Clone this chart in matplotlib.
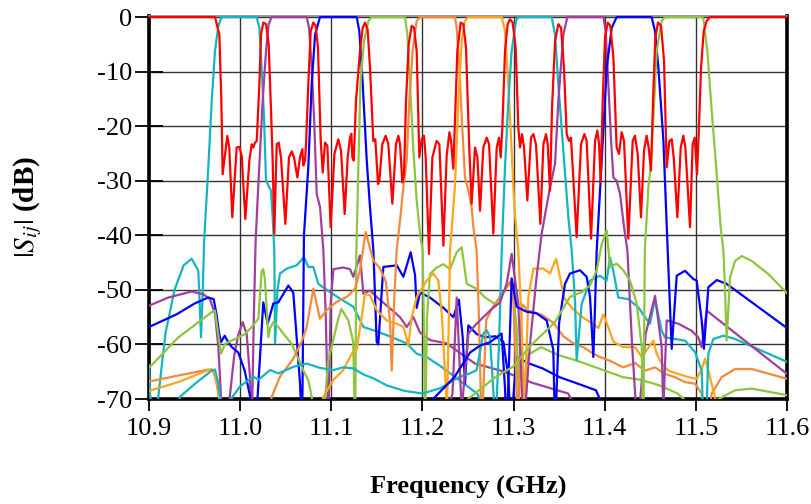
import matplotlib
matplotlib.use("Agg")
import matplotlib.pyplot as plt

plt.rcParams['font.family'] = ['Liberation Serif', 'DejaVu Serif']
plt.rcParams['mathtext.fontset'] = 'stix'

# Common-port reflection |S11| (dB)
s11 = [(10.9, 0), (10.9724, 0), (10.9772, -3.2), (10.9794, -15.4), (10.9808, -28.8), (10.9859, -21.8),
       (10.9881, -23.9), (10.9914, -36.7), (10.9962, -23.9), (10.9991, -23.8), (11.0017, -25.4),
       (11.0057, -37.0), (11.0101, -26.3), (11.0127, -23.3), (11.0145, -23.9), (11.0163, -23.0),
       (11.0182, -22.7), (11.0211, -12.3), (11.0229, -3.2), (11.0254, -1.0), (11.0284, -1.3),
       (11.0313, -5.0), (11.0339, -17.2), (11.0357, -26.3), (11.0375, -39.7), (11.0401, -23.3),
       (11.0423, -23.0), (11.0448, -25.7), (11.0496, -37.9), (11.0536, -25.7), (11.0566, -24.6),
       (11.0591, -25.7), (11.0628, -29.4), (11.0657, -25.7), (11.0682, -24.2), (11.0693, -27.2),
       (11.0712, -26.3), (11.0723, -23.3), (11.0748, -12.3), (11.0774, -2.6), (11.0803, -1.0),
       (11.0829, -1.6), (11.0854, -5.6), (11.0884, -22.7), (11.0906, -28.5), (11.0931, -23.0),
       (11.0957, -23.6), (11.0993, -38.5), (11.1034, -25.1), (11.1077, -22.4), (11.1107, -24.5),
       (11.1147, -36.1), (11.1180, -25.7), (11.1205, -22.1), (11.1220, -21.4), (11.1231, -25.7),
       (11.1246, -26.3), (11.1271, -15.4), (11.1315, -6.2), (11.1345, -1.95), (11.1370, -1.0),
       (11.1399, -2.3), (11.1425, -9.3), (11.1461, -22.7), (11.1483, -22.4), (11.1513, -30.6),
       (11.1527, -30.0), (11.1560, -23.3), (11.1597, -21.75), (11.1626, -23.3), (11.1670, -34.2),
       (11.1710, -23.3), (11.1736, -21.75), (11.1754, -23.3), (11.1780, -30.3), (11.1798, -28.8),
       (11.1820, -15.4), (11.1849, -5.0), (11.1882, -1.6), (11.1908, -1.95), (11.1937, -6.2),
       (11.1966, -25.7), (11.1992, -22.4), (11.2017, -21.75), (11.2036, -25.7), (11.2072, -43.4),
       (11.2109, -25.7), (11.2156, -22.7), (11.2186, -23.3), (11.2230, -41.9), (11.2266, -25.4),
       (11.2296, -21.1), (11.2314, -22.7), (11.2339, -27.8), (11.2357, -19.0), (11.2383, -6.2),
       (11.2420, -1.0), (11.2449, -1.3), (11.2478, -5.6), (11.2515, -24.5), (11.2540, -34.2),
       (11.2577, -23.9), (11.2603, -25.7), (11.2632, -35.5), (11.2668, -23.9), (11.2705, -22.1),
       (11.2731, -23.3), (11.2778, -39.7), (11.2815, -23.9), (11.2840, -22.1), (11.2859, -25.7),
       (11.2877, -20.2), (11.2906, -6.2), (11.2935, -1.3), (11.2961, -0.4), (11.2990, -1.0),
       (11.3023, -5.6), (11.3052, -20.2), (11.3071, -23.9), (11.3093, -21.45), (11.3115, -23.9),
       (11.3151, -33.6), (11.3191, -22.1), (11.3217, -21.45), (11.3246, -23.3), (11.3294, -37.9),
       (11.3327, -23.3), (11.3356, -21.45), (11.3374, -23.3), (11.3400, -31.8), (11.3422, -16.6),
       (11.3455, -4.4), (11.3491, -1.3), (11.3521, -1.95), (11.3553, -9.3), (11.3583, -21.45),
       (11.3608, -22.7), (11.3630, -22.1), (11.3692, -40.3), (11.3740, -23.3), (11.3777, -21.45),
       (11.3802, -22.7), (11.3850, -40.6), (11.3894, -22.7), (11.3919, -20.8), (11.3938, -23.3),
       (11.3956, -30.3), (11.3978, -15.4), (11.4003, -3.8), (11.4033, -1.0), (11.4062, -1.6),
       (11.4095, -7.4), (11.4131, -23.9), (11.4157, -25.1), (11.4186, -21.1), (11.4212, -22.7),
       (11.4259, -40.6), (11.4307, -22.7), (11.4332, -21.75), (11.4362, -25.1), (11.4398, -36.7),
       (11.4431, -24.5), (11.4460, -21.75), (11.4482, -23.9), (11.4508, -28.1), (11.4530, -15.4),
       (11.4555, -3.8), (11.4585, -1.0), (11.4618, -1.6), (11.4651, -8.0), (11.4680, -27.5),
       (11.4709, -22.7), (11.4735, -22.4), (11.4757, -25.7), (11.4797, -36.7), (11.4834, -23.9),
       (11.4863, -21.75), (11.4885, -23.9), (11.4936, -38.5), (11.4965, -23.3), (11.4987, -22.1),
       (11.5013, -28.8), (11.5031, -21.45), (11.5057, -9.3), (11.5086, -2.6), (11.5119, -0.7),
       (11.5155, 0), (11.6, 0)]

# Channel transmission curves |Si1| (dB)
ch1 = [(10.9, -63.8), (10.9011, -69.0), (10.905, -76), (10.9102, -69.6), (10.918, -58), (10.928, -50),
       (10.938, -45.5), (10.9468, -44.3), (10.9541, -46.5), (10.9571, -58.7), (10.9590, -50),
       (10.9605, -41), (10.9651, -27.5), (10.9688, -15.4), (10.9724, -6.2), (10.9761, -1.6),
       (10.9797, 0), (11.0181, 0), (11.0211, -1.95), (11.0236, -9.3), (11.0262, -18.4), (11.0284, -30.0),
       (11.0309, -30.9), (11.0339, -31.8), (11.0357, -36.7), (11.0375, -42.8), (11.0383, -59.8),
       (11.0410, -50), (11.0437, -47.0), (11.0511, -46.1), (11.0620, -45.5), (11.0701, -44.0),
       (11.0748, -45.8), (11.0803, -45.8), (11.0858, -48.9), (11.0986, -50.4), (11.1096, -51.6),
       (11.1242, -53.1), (11.1352, -56.8), (11.1461, -57.4), (11.1608, -58.3), (11.1827, -59.8),
       (11.1937, -61.7), (11.2047, -62.3), (11.22, -64), (11.24, -66.5), (11.26, -69), (11.28, -76),
       (11.6, -76)]

ch2 = [(10.9, -52.9), (10.9212, -51.4), (10.9468, -50.3), (10.9596, -50.8), (10.9669, -51.7),
       (10.9724, -54.4), (10.9761, -60.5), (10.9790, -69.6), (10.984, -76), (10.9890, -69),
       (10.9935, -62), (10.998, -58.2), (11.0028, -55.9), (11.0072, -58.1), (11.0108, -66.0),
       (11.0127, -76), (11.0150, -55), (11.0170, -41), (11.0200, -30.6), (11.0247, -15.4),
       (11.0284, -6.2), (11.0313, -1.3), (11.0346, 0), (11.0730, 0), (11.0756, -1.95), (11.0785, -9.3),
       (11.0811, -18.4), (11.0840, -32.4), (11.0877, -34.85), (11.0913, -42.8), (11.0940, -55),
       (11.0968, -76), (11.0993, -52.6), (11.1023, -46.2), (11.1132, -45.9), (11.1205, -46.2),
       (11.1242, -47.6), (11.1315, -43.7), (11.1352, -50.7), (11.1425, -50.1), (11.1498, -51.3),
       (11.1645, -53.4), (11.1754, -55.0), (11.1828, -56.8), (11.1901, -55.0), (11.1973, -57.8),
       (11.2083, -59.2), (11.2266, -59.8), (11.245, -62), (11.2577, -63.5), (11.29, -65), (11.32, -67),
       (11.36, -69), (11.38, -76), (11.6, -76)]

ch3 = [(10.9, -56.8), (10.93, -54.5), (10.95, -52.5), (10.965, -51.4), (10.971, -51.7), (10.974, -54.4),
       (10.977, -58), (10.979, -59.6), (10.983, -58.4), (10.987, -59.6), (10.991, -60.5), (10.998, -61.5),
       (11.005, -64.8), (11.011, -69.6), (11.015, -76), (11.019, -70), (11.0254, -52.3), (11.0302, -56.2),
       (11.0364, -52.5), (11.0419, -52.3), (11.0529, -49.2), (11.0583, -50.5), (11.0620, -58.7),
       (11.0657, -67.2), (11.0680, -76), (11.0700, -40), (11.0748, -27.5), (11.0785, -12.3),
       (11.0822, -3.2), (11.0876, 0), (11.1279, 0), (11.1308, -2.6), (11.1345, -12.3), (11.1389, -26.3),
       (11.1425, -34.9), (11.1462, -42.8), (11.1498, -59.5), (11.1516, -60.0), (11.1571, -45.8),
       (11.1718, -45.5), (11.1791, -47.6), (11.1871, -43.1), (11.1919, -47.3), (11.1937, -53.3),
       (11.1974, -50.5), (11.2083, -51.4), (11.2230, -53.3), (11.2340, -55.0), (11.2400, -51.8),
       (11.2442, -58.7), (11.2467, -67.2), (11.2504, -56.5), (11.2595, -58.1), (11.2687, -58.7),
       (11.2800, -58.5), (11.2888, -59.5), (11.2943, -66), (11.2970, -76), (11.3030, -62.3),
       (11.3172, -63.5), (11.3319, -64.4), (11.3504, -66.0), (11.3757, -67.5), (11.3904, -68.4),
       (11.40, -72), (11.42, -76), (11.6, -76)]

ch4 = [(10.9, -64.3), (10.9322, -58.7), (10.9687, -54.1), (10.9724, -53.8), (10.9760, -58.1),
       (10.9790, -61.7), (10.9834, -59.9), (10.9907, -59.3), (11.0053, -58.1), (11.0127, -56.8),
       (11.0200, -55.3), (11.0236, -46.5), (11.0254, -46.2), (11.0273, -48.3), (11.0309, -58.7),
       (11.0330, -57), (11.0364, -55.9), (11.0419, -56.8), (11.0492, -58.4), (11.0565, -59.9),
       (11.0639, -62.6), (11.0694, -64.8), (11.0749, -66.6), (11.0785, -69.6), (11.083, -76),
       (11.092, -72), (11.0968, -62.9), (11.1077, -55.3), (11.1110, -53.5), (11.1187, -55.6),
       (11.1240, -59.5), (11.1262, -76), (11.1275, -43), (11.1297, -27.5), (11.1320, -12),
       (11.1359, -4.4), (11.1407, -0.7), (11.1443, 0), (11.1809, 0), (11.1835, -3.2), (11.1864, -12.3),
       (11.1901, -24.5), (11.1937, -33.6), (11.1974, -39.7), (11.2003, -42.8), (11.2015, -55),
       (11.2030, -76), (11.2050, -55), (11.2083, -47.1), (11.2156, -45.9), (11.2230, -45.3),
       (11.2303, -46.2), (11.2376, -43.1), (11.2431, -42.2), (11.2486, -48.9), (11.2595, -49.8),
       (11.2687, -51.4), (11.2796, -52.6), (11.2906, -50.0), (11.2979, -48.3), (11.3034, -57),
       (11.3070, -76), (11.3150, -62), (11.33, -60.5), (11.35, -62), (11.37, -63), (11.40, -64.8),
       (11.42, -66), (11.44, -66.5), (11.46, -67.5), (11.48, -69), (11.50, -72), (11.525, -70),
       (11.543, -68.4), (11.5613, -68.1), (11.6, -69.3)]

ch5 = [(10.9, -66.8), (10.9322, -65.7), (10.9651, -64.6), (10.9706, -64.8), (10.9742, -67.2),
       (10.9768, -69.6), (10.980, -76), (11.030, -76), (11.0346, -69.6), (11.0437, -65.9),
       (11.0584, -62.6), (11.0675, -59.5), (11.0730, -56.8), (11.0803, -49.8), (11.0876, -55.3),
       (11.0949, -53.7), (11.1059, -52.2), (11.1169, -51.3), (11.1260, -49.8), (11.1315, -46.4),
       (11.1377, -39.4), (11.1461, -44.6), (11.1535, -46.1), (11.1600, -48.5), (11.1645, -56),
       (11.1663, -64.8), (11.1690, -52), (11.1717, -42.8), (11.1754, -37.3), (11.1791, -31.2),
       (11.1827, -26.3), (11.1856, -15.4), (11.1893, -6.2), (11.1937, -0.7), (11.1974, 0), (11.2357, 0),
       (11.2376, -1.95), (11.2405, -9.3), (11.2431, -18.4), (11.2467, -29.4), (11.2504, -31.8),
       (11.2540, -34.85), (11.2559, -38.5), (11.2595, -42.8), (11.2620, -55), (11.2650, -76),
       (11.2700, -55.5), (11.2778, -53), (11.2888, -50.5), (11.2961, -48.5), (11.2998, -52),
       (11.3030, -66), (11.3050, -76), (11.3089, -52.6), (11.3162, -53.8), (11.3300, -54.5),
       (11.3436, -56), (11.3546, -58.5), (11.3656, -59.8), (11.3765, -60.5), (11.3875, -61.7),
       (11.3948, -62.3), (11.4058, -63), (11.4204, -64.2), (11.4333, -63.4), (11.4442, -64.8),
       (11.4552, -64.2), (11.4662, -65.4), (11.4771, -66), (11.4881, -66.9), (11.4991, -67.2),
       (11.5064, -69), (11.5100, -76), (11.5174, -69), (11.5283, -66), (11.5430, -64.5),
       (11.5613, -64.5), (11.6, -66.3)]

ch6 = [(10.9, -68.5), (10.9322, -66.9), (10.9633, -64.8), (10.9687, -64.5), (10.9731, -66.0),
       (10.9768, -69.6), (10.98, -76), (11.08, -76), (11.0913, -69.6), (11.1023, -66.5), (11.1132, -64.7),
       (11.1224, -61.7), (11.1279, -61.0), (11.1333, -55.0), (11.1370, -50.7), (11.1425, -51.0),
       (11.1498, -53.7), (11.1608, -55.6), (11.1718, -56.2), (11.1791, -56.8), (11.1846, -60.1),
       (11.1882, -55.0), (11.1937, -51.3), (11.2047, -48.3), (11.2120, -47.0), (11.2175, -48.3),
       (11.2212, -54.3), (11.2248, -65.3), (11.2270, -72), (11.2290, -55), (11.2303, -42.8),
       (11.2358, -30.6), (11.2394, -15.4), (11.2431, -4.4), (11.2467, -0.7), (11.2504, 0), (11.2870, 0),
       (11.2906, -2.6), (11.2943, -12.3), (11.2979, -24.5), (11.3009, -34.85), (11.3034, -39.7),
       (11.3052, -42.8), (11.3085, -55), (11.3120, -72), (11.3162, -51.3), (11.3217, -46.1),
       (11.3327, -46.1), (11.3400, -47.0), (11.3466, -44.3), (11.3502, -47.0), (11.3555, -51.5),
       (11.3650, -53.5), (11.3757, -55), (11.3848, -56.0), (11.3930, -57.0), (11.3985, -54.5),
       (11.4020, -56), (11.4095, -59.5), (11.4204, -60.5), (11.4333, -60.5), (11.4406, -62.3),
       (11.4534, -59.3), (11.4570, -61.7), (11.4625, -63.5), (11.4698, -64.8), (11.4808, -65.4),
       (11.4918, -66.0), (11.5009, -66.3), (11.5064, -64.5), (11.5101, -62.6), (11.5137, -64.8),
       (11.5210, -69.6), (11.525, -76), (11.6, -76)]

ch7 = [(10.9, -76), (10.925, -76), (10.934, -69.6), (10.9505, -67.2), (10.9687, -64.8), (10.9724, -64.6),
       (10.9753, -66.6), (10.9779, -69.6), (10.980, -76), (10.985, -76), (10.990, -70), (10.9998, -67.7),
       (11.0145, -65.9), (11.0200, -66.5), (11.0327, -64.7), (11.0420, -65.3), (11.0584, -64.1),
       (11.0730, -63.5), (11.0876, -64.3), (11.1022, -64.7), (11.1132, -64.2), (11.1242, -64.4),
       (11.1352, -65.5), (11.1461, -66.2), (11.1608, -67.5), (11.18, -68.5), (11.20, -69), (11.22, -68),
       (11.24, -66), (11.2522, -65.3), (11.2595, -64.7), (11.2668, -58.0), (11.2705, -57.4),
       (11.2741, -58.6), (11.2778, -68.4), (11.2800, -76), (11.2840, -60), (11.2870, -42.8),
       (11.2906, -27.5), (11.2943, -15.4), (11.2979, -6.2), (11.3027, -0.7), (11.3052, 0), (11.3418, 0),
       (11.3455, -3.2), (11.3491, -12.3), (11.3546, -24.5), (11.3601, -36.7), (11.3638, -42.8),
       (11.3674, -52), (11.3692, -62.9), (11.3747, -52.6), (11.3839, -48.3), (11.3948, -47.4),
       (11.4021, -48.3), (11.4058, -44.1), (11.4094, -46.5), (11.4149, -51.4), (11.4259, -51.7),
       (11.4369, -53.2), (11.4442, -55.0), (11.4497, -56.2), (11.4552, -51.7), (11.4625, -57.5),
       (11.4662, -58.7), (11.4881, -59.3), (11.4991, -61.4), (11.5064, -64.8), (11.5085, -76),
       (11.5110, -76), (11.5137, -61.7), (11.5192, -59.0), (11.5302, -58.4), (11.5430, -59.0),
       (11.6, -63.2)]

ch8 = [(10.9, -76), (11.22, -76), (11.2330, -69), (11.2376, -51.4), (11.2430, -72), (11.2505, -58),
       (11.2577, -56.5), (11.2760, -53.5), (11.2851, -52.3), (11.2924, -48.9), (11.2979, -43.4),
       (11.3052, -52.6), (11.3110, -76), (11.3180, -60), (11.3250, -48), (11.3308, -39.7),
       (11.3400, -31.2), (11.3455, -26.9), (11.3491, -15.4), (11.3546, -3.2), (11.3590, 0), (11.3985, 0),
       (11.4011, -2.6), (11.4040, -12.3), (11.4070, -22.7), (11.4095, -29.4), (11.4131, -30.0),
       (11.4168, -32.4), (11.4212, -38.5), (11.4249, -42.8), (11.4300, -60), (11.4360, -76),
       (11.4450, -58), (11.4552, -51.1), (11.4625, -60.5), (11.4643, -72), (11.4680, -55.6),
       (11.4808, -56.2), (11.4954, -57.5), (11.5027, -58.7), (11.5064, -60.5), (11.5119, -53.8),
       (11.6, -65.4)]

ch9 = [(10.9, -76), (11.15, -76), (11.2, -72), (11.235, -66), (11.2522, -61.5), (11.2632, -60.2),
       (11.2741, -59.6), (11.2869, -58), (11.2906, -68), (11.2925, -76), (11.2979, -47.9), (11.3034, -53.1),
       (11.3144, -54.0), (11.3253, -54.3), (11.3363, -55.6), (11.3436, -61), (11.3455, -76), (11.3500, -56),
       (11.3564, -48.9), (11.3619, -47.0), (11.3729, -46.4), (11.3802, -47.6), (11.3839, -51.3),
       (11.3875, -62.3), (11.3890, -55), (11.3912, -42.8), (11.3967, -26.3), (11.4022, -9.3),
       (11.4077, -1.95), (11.4131, 0), (11.4515, 0), (11.4552, -2.6), (11.4589, -9.3), (11.4644, -22.7),
       (11.4691, -42.8), (11.4735, -60.8), (11.4790, -47.4), (11.4881, -46.5), (11.4972, -48.0),
       (11.5009, -48.3), (11.5064, -55.6), (11.5089, -60.8), (11.5137, -49.5), (11.5229, -48.2),
       (11.5338, -48.9), (11.6, -57.0)]

ch10 = [(10.9, -76), (11.2, -76), (11.25, -70), (11.28, -66), (11.30, -64), (11.32, -60), (11.345, -56),
        (11.3619, -51.3), (11.3747, -50.4), (11.3839, -49.2), (11.3912, -46.4), (11.3967, -41.6),
        (11.4022, -39.1), (11.4058, -45.8), (11.4131, -45.2), (11.4204, -46.4), (11.4278, -48.3),
        (11.4351, -52.5), (11.4406, -60.4), (11.4424, -76), (11.4440, -42.8), (11.4479, -31.2),
        (11.4504, -27.5), (11.4534, -18.4), (11.4570, -6.2), (11.4625, -0.7), (11.4662, 0), (11.5064, 0),
        (11.5082, -0.3), (11.5126, -6.2), (11.5174, -17.2), (11.5229, -28.8), (11.5272, -38.5),
        (11.5302, -42.8), (11.5320, -50), (11.5338, -59.3), (11.5375, -47.7), (11.5430, -44.7),
        (11.5503, -43.8), (11.5613, -44.7), (11.5795, -47.1), (11.6, -50.6)]

channels = [ch1, ch2, ch3, ch4, ch5, ch6, ch7, ch8, ch9, ch10]
channel_colors = ['#14b4c0', '#a0409e', '#0000ff', '#8cc63e', '#f28a3a',
                  '#ffa51c', '#14b4c0', '#a0409e', '#0000ff', '#8cc63e']

x_ticks = [10.9, 11.0, 11.1, 11.2, 11.3, 11.4, 11.5, 11.6]
y_ticks = [0, -10, -20, -30, -40, -50, -60, -70]

fig = plt.figure(figsize=(8.11, 5.04), dpi=100)
ax = fig.add_axes([149 / 811, 1 - 399 / 504, (787 - 149) / 811, (399 - 16) / 504])

for curve, color in zip(channels, channel_colors):
    f, db = zip(*curve)
    ax.plot(f, db, color=color, lw=1.6, solid_joinstyle='round', zorder=3)

f, db = zip(*s11)
ax.plot(f, db, color='#ff0000', lw=1.6, solid_joinstyle='round', zorder=4)

ax.set_xlim(10.9, 11.6)
ax.set_ylim(-70, 0.2)
ax.set_xticks(x_ticks)
ax.set_xticklabels([f'{t:.1f}' for t in x_ticks])
ax.set_yticks(y_ticks)
ax.set_yticklabels([f'{t:d}' for t in y_ticks])

ax.grid(True, color='#333333', lw=1.0, zorder=1)
ax.set_axisbelow(True)

for side in ['left', 'bottom', 'right']:
    ax.spines[side].set_linewidth(2.6)
    ax.spines[side].set_color('black')
ax.spines['top'].set_linewidth(1.2)
ax.spines['top'].set_color('#888888')

ax.tick_params(axis='y', direction='inout', length=20, width=1.3, labelsize=19, pad=2)
ax.tick_params(axis='x', direction='out', length=8.6, width=1.3, labelsize=19, pad=5)

ax.set_xlabel('Frequency (GHz)', fontsize=19, fontweight='bold', labelpad=26)
ax.set_ylabel(r'$|S_{ij}|$ (dB)', fontsize=21, fontweight='bold', labelpad=38)

fig.savefig('out.png', dpi=100)
